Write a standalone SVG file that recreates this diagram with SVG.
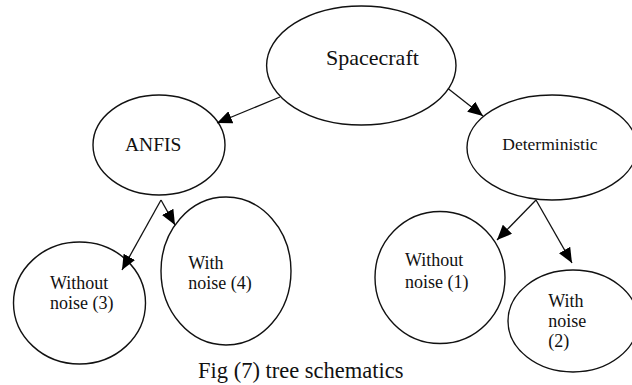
<svg xmlns="http://www.w3.org/2000/svg" width="632" height="385" viewBox="0 0 632 385">
<defs>
<style>
.node ellipse{fill:#fff;stroke:#111;stroke-width:1.4}
.t{font-family:"Liberation Serif","Times New Roman",serif;fill:#111}
.edge{stroke:#111;stroke-width:1.3;fill:none;marker-end:url(#ah)}
</style>
<marker id="ah" markerUnits="userSpaceOnUse" viewBox="0 0 15 13" refX="15" refY="6.5" markerWidth="15" markerHeight="13" orient="auto">
<path d="M0,0 L15,6.5 L0,13 z" fill="#000"/>
</marker>
</defs>
<rect width="632" height="385" fill="#fff"/>
<g id="spacecraft" class="node">
<ellipse cx="361.3" cy="65.5" rx="94.7" ry="59.5"/>
<text class="t" font-family="Liberation Serif, serif" x="326" y="65" font-size="22">Spacecraft</text>
</g>
<g id="anfis" class="node">
<ellipse cx="159" cy="145" rx="66" ry="50"/>
<text class="t" font-family="Liberation Serif, serif" x="125" y="151" font-size="19.5">ANFIS</text>
</g>
<g id="deterministic" class="node">
<ellipse cx="552" cy="147.5" rx="85" ry="52.5"/>
<text class="t" font-family="Liberation Serif, serif" x="502.3" y="150" font-size="17.5">Deterministic</text>
</g>
<g id="without3" class="node" font-family="Liberation Serif, serif" font-size="18">
<ellipse cx="79.5" cy="303" rx="66" ry="61"/>
<text class="t" x="50" y="289.3">Without</text>
<text class="t" x="50" y="309.3">noise (3)</text>
</g>
<g id="with4" class="node" font-family="Liberation Serif, serif" font-size="18">
<ellipse cx="226" cy="271" rx="65" ry="74"/>
<text class="t" x="188.3" y="269">With</text>
<text class="t" x="188.3" y="289.3">noise (4)</text>
</g>
<g id="without1" class="node" font-family="Liberation Serif, serif" font-size="18">
<ellipse cx="440" cy="277.5" rx="65" ry="66"/>
<text class="t" x="405" y="266">Without</text>
<text class="t" x="405" y="288.3">noise (1)</text>
</g>
<g id="with2" class="node" font-family="Liberation Serif, serif" font-size="18">
<ellipse cx="573" cy="321" rx="65" ry="51"/>
<text class="t" x="548.3" y="307.3">With</text>
<text class="t" x="548.3" y="327.3">noise</text>
<text class="t" x="548.3" y="346.7">(2)</text>
</g>
<g id="connectors">
<line class="edge" x1="280" y1="97" x2="217" y2="123"/>
<line class="edge" x1="448" y1="88.5" x2="483" y2="116"/>
<line class="edge" x1="161" y1="200" x2="122" y2="270"/>
<line class="edge" x1="161" y1="200" x2="175" y2="225"/>
<line class="edge" x1="536" y1="200" x2="497" y2="240"/>
<line class="edge" x1="536" y1="200" x2="572" y2="263"/>
</g>
<text id="caption" class="t" font-family="Liberation Serif, serif" x="198" y="378" font-size="22.5">Fig (7) tree schematics</text>
</svg>
